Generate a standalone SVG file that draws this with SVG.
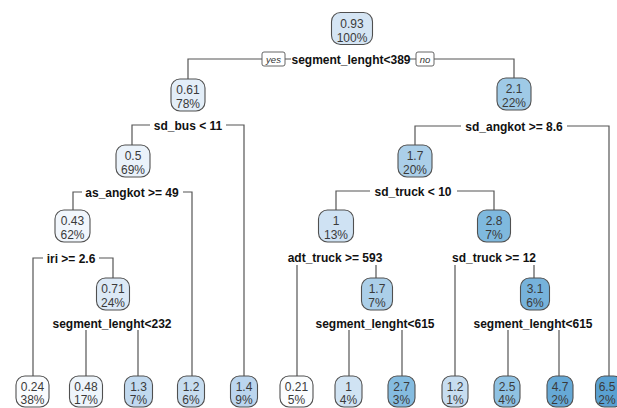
<svg xmlns="http://www.w3.org/2000/svg" width="617" height="408" viewBox="0 0 617 408">
<style>
.bg{fill:#ffffff}
.n rect{stroke:#505050;stroke-width:1.1}
.n text{font-family:"Liberation Sans",Arial,sans-serif;font-size:12px;fill:#3a3a3a;text-anchor:middle}
.lab{font-family:"Liberation Sans",Arial,sans-serif;font-size:12px;font-weight:bold;fill:#111111;text-anchor:middle}
.yn rect{fill:#ffffff;stroke:#555555;stroke-width:0.9}
.yn text{font-family:"Liberation Sans",Arial,sans-serif;font-size:9.5px;font-style:italic;fill:#333333;text-anchor:middle}
#connectors path{fill:none;stroke:#555555;stroke-width:1.2}
</style>
<rect class="bg" x="0" y="0" width="617" height="408"/>
<g id="connectors">
<path d="M262 59 H188 V79 M285 59 H291 M410 59 H416 M434 59 H514 V78"/>
<path d="M150 125 H132 V145 M226 125 H244 V376"/>
<path d="M82 192 H73 V210 M183 192 H192 V376"/>
<path d="M43 258 H33 V376 M99 258 H113 V278"/>
<path d="M86 330 V376 M138 330 V376"/>
<path d="M461 126 H415 V145 M567 126 H609 V376"/>
<path d="M370 191 H336 V210 M457 191 H494 V210"/>
<path d="M297 265 V376 M376 265 V278"/>
<path d="M349 330 V376 M402 330 V376"/>
<path d="M455 265 V376 M534 265 V278"/>
<path d="M508 330 V376 M559 330 V376"/>
</g>
<g id="split-labels">
<text class="lab" x="351" y="63.5">segment_lenght&lt;389</text>
<text class="lab" x="188" y="129.5">sd_bus &lt; 11</text>
<text class="lab" x="132" y="196.5">as_angkot &gt;= 49</text>
<text class="lab" x="71" y="262.5">iri &gt;= 2.6</text>
<text class="lab" x="112" y="327.5">segment_lenght&lt;232</text>
<text class="lab" x="514" y="130.5">sd_angkot &gt;= 8.6</text>
<text class="lab" x="413" y="195.5">sd_truck &lt; 10</text>
<text class="lab" x="335" y="261.5">adt_truck &gt;= 593</text>
<text class="lab" x="375" y="327.5">segment_lenght&lt;615</text>
<text class="lab" x="494" y="261.5">sd_truck &gt;= 12</text>
<text class="lab" x="533" y="327.5">segment_lenght&lt;615</text>
</g>
<g id="yes-label" class="yn"><rect x="262" y="52" width="23" height="14" rx="2"/><text x="273.5" y="62.5">yes</text></g>
<g id="no-label" class="yn"><rect x="416" y="52" width="18" height="14" rx="2"/><text x="425" y="62.5">no</text></g>

<g id="node-root" class="n"><rect x="331.5" y="12.5" width="41" height="32" rx="9" fill="#d5e5f4"/><text x="352" y="27.5">0.93</text><text x="352" y="41.5">100%</text></g>
<g id="node-061" class="n"><rect x="171" y="79" width="34" height="32" rx="9" fill="#e3eef8"/><text x="188" y="93.8">0.61</text><text x="188" y="107.8">78%</text></g>
<g id="node-21" class="n"><rect x="497" y="78" width="34" height="32" rx="9" fill="#9fcae6"/><text x="514" y="92.8">2.1</text><text x="514" y="106.8">22%</text></g>
<g id="node-05" class="n"><rect x="116" y="145" width="34" height="32" rx="9" fill="#eaf2fa"/><text x="133" y="159.8">0.5</text><text x="133" y="173.8">69%</text></g>
<g id="node-043" class="n"><rect x="55" y="210" width="35" height="32" rx="9" fill="#f1f6fc"/><text x="72.5" y="224.8">0.43</text><text x="72.5" y="238.8">62%</text></g>
<g id="node-071" class="n"><rect x="96.5" y="278" width="33" height="32" rx="9" fill="#dce9f6"/><text x="113" y="292.8">0.71</text><text x="113" y="306.8">24%</text></g>
<g id="node-17a" class="n"><rect x="398" y="145" width="34" height="32" rx="9" fill="#abcfe9"/><text x="415" y="159.8">1.7</text><text x="415" y="173.8">20%</text></g>
<g id="node-1-13" class="n"><rect x="318.5" y="210" width="35" height="32" rx="9" fill="#cfe2f3"/><text x="336" y="224.8">1</text><text x="336" y="238.8">13%</text></g>
<g id="node-28" class="n"><rect x="477.5" y="210" width="33" height="32" rx="9" fill="#7fb9de"/><text x="494" y="224.8">2.8</text><text x="494" y="238.8">7%</text></g>
<g id="node-17b" class="n"><rect x="361.5" y="278" width="31" height="32" rx="9" fill="#abcfe9"/><text x="377" y="292.8">1.7</text><text x="377" y="306.8">7%</text></g>
<g id="node-31" class="n"><rect x="520.5" y="278" width="29" height="32" rx="9" fill="#76b2db"/><text x="535" y="292.8">3.1</text><text x="535" y="306.8">6%</text></g>

<g id="leaf-024" class="n"><rect x="16" y="376" width="33" height="31" rx="9" fill="#fafcfe"/><text x="32.5" y="390.5">0.24</text><text x="32.5" y="404">38%</text></g>
<g id="leaf-048" class="n"><rect x="69.5" y="376" width="33" height="31" rx="9" fill="#eef5fb"/><text x="86" y="390.5">0.48</text><text x="86" y="404">17%</text></g>
<g id="leaf-13" class="n"><rect x="124.5" y="376" width="28" height="31" rx="9" fill="#c1d9ef"/><text x="138.5" y="390.5">1.3</text><text x="138.5" y="404">7%</text></g>
<g id="leaf-12a" class="n"><rect x="177.5" y="376" width="27" height="31" rx="9" fill="#c7ddf0"/><text x="191" y="390.5">1.2</text><text x="191" y="404">6%</text></g>
<g id="leaf-14" class="n"><rect x="230.5" y="376" width="27" height="31" rx="9" fill="#bbd5ee"/><text x="244" y="390.5">1.4</text><text x="244" y="404">9%</text></g>
<g id="leaf-021" class="n"><rect x="280" y="376" width="33" height="31" rx="9" fill="#fbfdfe"/><text x="296.5" y="390.5">0.21</text><text x="296.5" y="404">5%</text></g>
<g id="leaf-1-4" class="n"><rect x="335" y="376" width="27" height="31" rx="9" fill="#d0e3f3"/><text x="348.5" y="390.5">1</text><text x="348.5" y="404">4%</text></g>
<g id="leaf-27" class="n"><rect x="388" y="376" width="27" height="31" rx="9" fill="#85bce0"/><text x="401.5" y="390.5">2.7</text><text x="401.5" y="404">3%</text></g>
<g id="leaf-12b" class="n"><rect x="442" y="376" width="26" height="31" rx="9" fill="#c7ddf0"/><text x="455" y="390.5">1.2</text><text x="455" y="404">1%</text></g>
<g id="leaf-25" class="n"><rect x="494" y="376" width="26" height="31" rx="9" fill="#8fc2e3"/><text x="507" y="390.5">2.5</text><text x="507" y="404">4%</text></g>
<g id="leaf-47" class="n"><rect x="547" y="376" width="26" height="31" rx="9" fill="#66a9d6"/><text x="560" y="390.5">4.7</text><text x="560" y="404">2%</text></g>
<g id="leaf-65" class="n"><rect x="595.5" y="376" width="27" height="31" rx="9" fill="#5aa1d2"/><text x="607" y="390.5">6.5</text><text x="607" y="404">2%</text></g>
</svg>
